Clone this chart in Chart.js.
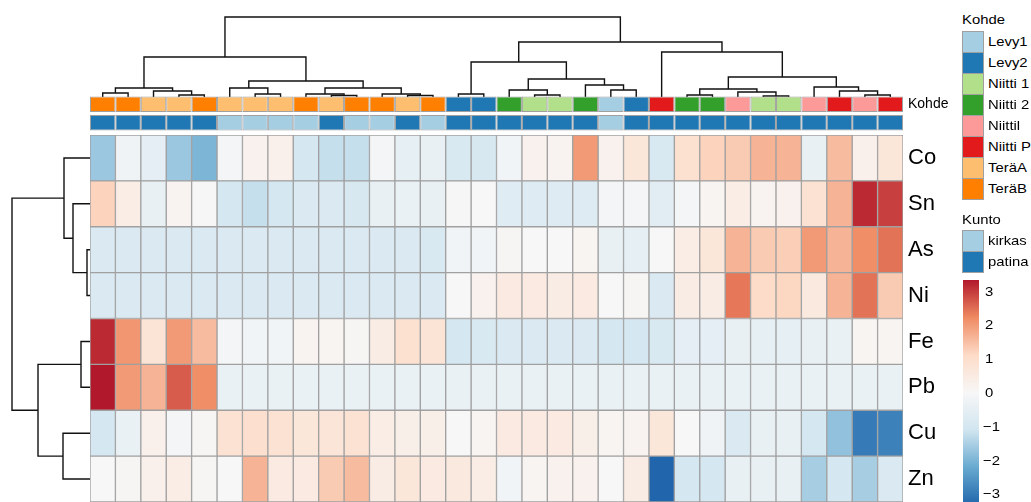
<!DOCTYPE html>
<html>
<head>
<meta charset="utf-8">
<script src="https://cdn.jsdelivr.net/npm/chart.js@4/dist/chart.umd.min.js"></script>
<style>
  html, body { margin: 0; padding: 0; background: #fff; overflow: hidden; }
  body { width: 1031px; height: 502px; position: relative; font-family: 'Liberation Sans', Arial, sans-serif; color: #000; }
  canvas { position: absolute; }
  .lg { position: absolute; white-space: nowrap; line-height: 1; font-size: 13.5px; transform: scaleX(1.1); transform-origin: left center; }
  .sw { position: absolute; box-sizing: border-box; border: 1px solid #a0a0a0; }
</style>
</head>
<body>
<canvas id="colTree"></canvas>
<canvas id="annot"></canvas>
<canvas id="rowTree"></canvas>
<canvas id="heat"></canvas>
<div id="legend"></div>
<script>
// heatmap rows, top to bottom; each array = scaled value per column (left to right)
const rowNames = ['Co', 'Sn', 'As', 'Ni', 'Fe', 'Pb', 'Cu', 'Zn'];
const Co = [-1.65, -0.22, -0.55, -1.65, -1.98, -0.11, 0.22, 0.28, -0.99, -1.21, -1.21, -0.11, -0.5, -0.44, -0.88, -0.94,
            -0.17, 0.22, 0.17, 1.98, 0.22, 0.66, -0.88, 0.88, 1.21, 1.32, 1.65, 1.65, -0.44, 1.54, 0.28, 0.66];
const Sn = [1.21, 0.39, -0.44, 0.17, 0.02, -0.99, -1.21, -0.99, -0.83, -0.83, -0.94, -0.44, -0.39, -0.44, 0.03, 0.01,
            -0.66, -0.72, -0.72, -0.72, -0.11, -0.11, -0.61, -0.11, 0.11, 0.39, 0.17, 0.22, 0.83, 1.65, 3.14, 2.92];
const As = [-0.83, -0.82, -0.84, -0.83, -0.82, -0.84, -0.83, -0.82, -0.84, -0.83, -0.82, -0.85, -0.84, -0.88, -0.17, -0.17,
            0.06, 0.0, 0.0, 0.11, -0.44, -0.5, 0.01, 0.39, 0.66, 1.65, 1.32, 1.27, 1.98, 1.65, 2.15, 2.42];
const Ni = [-0.83, -0.83, -0.84, -0.83, -0.82, -0.83, -0.84, -0.83, -0.83, -0.82, -0.83, -0.84, -0.83, -0.83, -0.01, 0.22,
            0.5, 0.5, 0.44, 0.5, 0.0, 0.06, -0.83, 0.44, 0.44, 2.37, 1.05, 1.16, 0.55, 1.65, 2.42, 1.32];
const Fe = [3.14, 2.04, 0.77, 1.98, 1.54, -0.11, -0.17, -0.17, 0.17, 0.11, 0.06, 0.44, 0.88, 0.77, -0.99, -0.88,
            -0.83, -0.83, -0.83, -0.83, -0.99, -0.99, -0.88, -0.55, -0.55, -0.44, -0.5, -0.5, -0.44, -0.39, 0.11, 0.11];
const Pb = [3.3, 1.98, 1.65, 2.64, 2.15, -0.39, -0.39, -0.39, -0.39, -0.39, -0.39, -0.39, -0.39, -0.39, -0.38, -0.38,
            -0.39, -0.39, -0.39, -0.39, -0.39, -0.39, -0.39, -0.39, -0.39, -0.39, -0.39, -0.39, -0.39, -0.39, -0.38, -0.39];
const Cu = [-0.99, -0.39, 0.28, -0.11, 0.06, 0.83, 0.94, 0.83, 0.66, 0.72, 0.83, 0.39, 0.33, 0.33, 0.0, 0.11,
            0.5, 0.5, 0.5, 0.33, 0.11, 0.17, 0.66, 0.0, -0.22, -0.83, -0.44, -0.44, -0.99, -1.76, -2.97, -2.86];
const Zn = [0.0, 0.06, 0.28, 0.39, 0.06, 0.0, 1.65, 0.5, 0.5, 1.32, 1.54, 0.44, 0.66, 0.5, 0.55, 0.39,
            -0.17, 0.11, 0.22, 0.22, 0.0, 0.44, -3.3, -0.99, -0.99, -0.44, -0.44, -0.44, -1.54, -0.99, -1.54, -0.83];
const values = [Co, Sn, As, Ni, Fe, Pb, Cu, Zn];

// column annotations
const kohde = ['TeräB', 'TeräB', 'TeräA', 'TeräA', 'TeräB', 'TeräA', 'TeräA', 'TeräA', 'TeräB', 'TeräA', 'TeräB', 'TeräB',
               'TeräA', 'TeräB', 'Levy2', 'Levy2', 'Niitti 2', 'Niitti 1', 'Niitti 1', 'Niitti 2', 'Levy1', 'Levy2',
               'Niitti P', 'Niitti 2', 'Niitti 2', 'Niittil', 'Niitti 1', 'Niitti 1', 'Niittil', 'Niitti P', 'Niittil', 'Niitti P'];
const kunto = ['patina', 'patina', 'patina', 'patina', 'patina', 'kirkas', 'kirkas', 'kirkas', 'kirkas', 'patina', 'kirkas',
               'kirkas', 'patina', 'kirkas', 'patina', 'patina', 'patina', 'patina', 'patina', 'patina', 'kirkas', 'patina',
               'patina', 'patina', 'patina', 'patina', 'patina', 'patina', 'patina', 'patina', 'patina', 'patina'];
const kohdeLevels = ['Levy1', 'Levy2', 'Niitti 1', 'Niitti 2', 'Niittil', 'Niitti P', 'TeräA', 'TeräB'];
const kohdeColors = ['#A6CEE3', '#1F78B4', '#B2DF8A', '#33A02C', '#FB9A99', '#E31A1C', '#FDBF6F', '#FF7F00'];
const kuntoLevels = ['kirkas', 'patina'];
const kuntoColors = ['#A6CEE3', '#1F78B4'];

// clustering trees, hclust style: negative = leaf (1-based display order), positive = earlier merge
const colMerge = [[-4, -5], [-3, 1], [-1, -2], [3, 2], [-7, -8], [-6, 5], [-10, -11], [-9, 7], [-13, -14], [-12, 9],
                  [8, 10], [6, 11], [4, 12], [-15, -16], [-18, -19], [-17, 15], [-21, -22], [-20, 17], [16, 18], [14, 19],
                  [-24, -25], [-27, -28], [-26, 22], [21, 23], [-31, -32], [-30, 25], [-29, 26], [24, 27], [-23, 28],
                  [20, 29], [13, 30]];
const colHeight = [2, 6, 4, 9, 3, 9, 1.5, 3, 1.5, 3, 9, 16, 40, 3, 2, 7, 7, 12, 18, 35, 2, 1, 5, 8, 2, 6, 10, 20, 45, 55, 80];
const rowMerge = [[-3, -4], [-2, 1], [-1, 2], [-5, -6], [-7, -8], [4, 5], [3, 6]];
const rowHeight = [3, 17, 26, 9, 27, 52, 78];

// colour key
const keyTicks = [3, 2, 1, 0, -1, -2, -3];
const palette = ['#B2182B', '#EF8A62', '#FDDBC7', '#F7F7F7', '#D1E5F0', '#67A9CF', '#2166AC'];
const keyMax = 3.3;

Chart.defaults.font.family = "'Liberation Sans', Arial, sans-serif";
Chart.defaults.color = '#000';

function hexToRgb(h) { return [1, 3, 5].map(i => parseInt(h.substr(i, 2), 16)); }
function heatColor(v) {
  v = Math.max(-keyMax, Math.min(keyMax, v));
  const t = (keyMax - v) / (2 * keyMax) * (palette.length - 1);
  const i = Math.min(Math.floor(t), palette.length - 2), f = t - i;
  const a = hexToRgb(palette[i]), b = hexToRgb(palette[i + 1]);
  return 'rgb(' + a.map((c, k) => Math.round(c + (b[k] - c) * f)).join(',') + ')';
}

function place(id, left, top, w, h) {
  const c = document.getElementById(id);
  c.width = w; c.height = h;
  c.style.left = left + 'px'; c.style.top = top + 'px';
  return c;
}

// U-shaped segments of a tree, in (leaf position, height) data units
function treeLines(merge, height, sideways) {
  const pos = [], ht = [];
  const p = n => n < 0 ? -n - 0.5 : pos[n - 1];
  const h = n => n < 0 ? 0 : ht[n - 1];
  return merge.map(([a, b], i) => {
    const pts = [[p(a), h(a)], [p(a), height[i]], [p(b), height[i]], [p(b), h(b)]];
    pos[i] = (p(a) + p(b)) / 2;
    ht[i] = height[i];
    return pts.map(([pp, hh]) => sideways ? { x: hh, y: pp } : { x: pp, y: hh });
  });
}

const treeStyle = { showLine: true, pointRadius: 0, borderColor: '#111', borderWidth: 1.4, clip: false, fill: false };
const noPlugins = { legend: { display: false }, tooltip: { enabled: false } };
const nCol = kohde.length;
const labelW = 55;

// top dendrogram
new Chart(place('colTree', 90, 12, 813, 90), {
  type: 'scatter',
  data: { datasets: treeLines(colMerge, colHeight, false).map(d => ({ ...treeStyle, data: d })) },
  options: {
    responsive: false, animation: false, plugins: noPlugins,
    layout: { padding: { top: 5, bottom: 5, left: 0, right: 0 } },
    scales: { x: { display: false, min: 0, max: nCol }, y: { display: false, min: 0, max: 80 } }
  }
});

// left dendrogram
new Chart(place('rowTree', 5, 130, 90, 377), {
  type: 'scatter',
  data: { datasets: treeLines(rowMerge, rowHeight, true).map(d => ({ ...treeStyle, data: d })) },
  options: {
    responsive: false, animation: false, plugins: noPlugins,
    layout: { padding: { top: 5, bottom: 5, left: 5, right: 5 } },
    scales: {
      x: { display: false, min: 0, max: 80, reverse: true },
      y: { display: false, min: 0, max: rowNames.length, reverse: true }
    }
  }
});

function labelAxis(size) {
  return {
    type: 'category', position: 'right', offset: true,
    grid: { display: false, drawTicks: false }, border: { display: false },
    ticks: { font: { size: size }, color: '#000', padding: 5 },
    afterFit: s => { s.width = labelW; s.paddingTop = 0; s.paddingBottom = 0; }
  };
}

// annotation strips
new Chart(place('annot', 90, 95, 813 + labelW, 37), {
  type: 'bar',
  data: {
    labels: ['Kohde', 'Kunto'],
    datasets: kohde.map((k, c) => ({
      data: [[c, c + 1], [c, c + 1]],
      backgroundColor: [kohdeColors[kohdeLevels.indexOf(k)], kuntoColors[kuntoLevels.indexOf(kunto[c])]],
      borderColor: '#a0a0a0', borderWidth: 1, borderSkipped: false,
      barPercentage: 0.85, categoryPercentage: 1, grouped: false
    }))
  },
  options: {
    indexAxis: 'y', responsive: false, animation: false, plugins: noPlugins,
    layout: { padding: 0 },
    scales: { x: { type: 'linear', display: false, min: 0, max: nCol }, y: labelAxis(14) }
  }
});

// heatmap cells
new Chart(place('heat', 90, 135, 813 + labelW, 367), {
  type: 'bar',
  data: {
    labels: rowNames,
    datasets: kohde.map((k, c) => ({
      data: rowNames.map(() => [c, c + 1]),
      backgroundColor: values.map(r => heatColor(r[c])),
      borderColor: '#a0a0a0', borderWidth: 1, borderSkipped: false,
      barPercentage: 1, categoryPercentage: 1, grouped: false
    }))
  },
  options: {
    indexAxis: 'y', responsive: false, animation: false, plugins: noPlugins,
    layout: { padding: 0 },
    scales: { x: { type: 'linear', display: false, min: 0, max: nCol }, y: labelAxis(22) }
  }
});

// legends
const legend = document.getElementById('legend');
function addText(txt, x, y) {
  const d = document.createElement('div');
  d.className = 'lg'; d.textContent = txt;
  d.style.left = x + 'px'; d.style.top = y + 'px';
  legend.appendChild(d);
}
function addBox(x, y, w, h, bg) {
  const d = document.createElement('div');
  d.className = 'sw';
  Object.assign(d.style, { left: x + 'px', top: y + 'px', width: w + 'px', height: h + 'px', background: bg });
  legend.appendChild(d);
}
addText('Kohde', 962, 13);
kohdeLevels.forEach((k, i) => {
  addBox(962, 30.7 + i * 21, 22, 22, kohdeColors[i]);
  addText(k, 988, 34.6 + i * 21);
});
addText('Kunto', 962, 213);
kuntoLevels.forEach((k, i) => {
  addBox(962, 230 + i * 21, 22, 22, kuntoColors[i]);
  addText(k, 988, 233.8 + i * 21);
});
const bar = document.createElement('div');
Object.assign(bar.style, { position: 'absolute', left: '963px', top: '280px', width: '16px', height: '225px',
  background: 'linear-gradient(to bottom,' + palette.join(',') + ')' });
legend.appendChild(bar);
keyTicks.forEach(t => addText(t < 0 ? '\u2212' + (-t) : String(t), t < 0 ? 983 : 985, 392.6 - t * 33.8 - 6.6));
</script>
</body>
</html>
